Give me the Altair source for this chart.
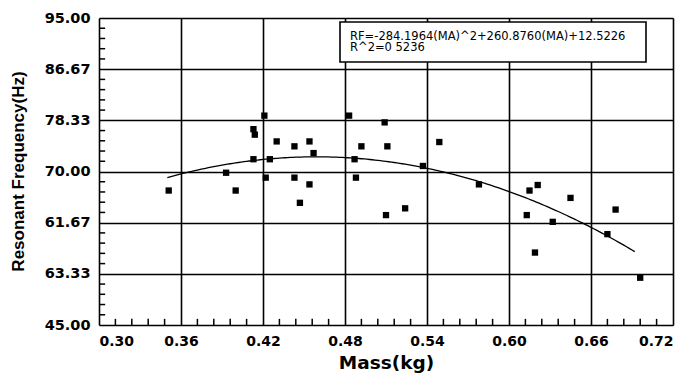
import altair as alt
import pandas as pd
import numpy as np

# Measured samples: mass (kg) and resonant frequency (Hz)
mass = [0.351, 0.393, 0.400, 0.413, 0.414, 0.413, 0.421, 0.422, 0.425, 0.430,
        0.443, 0.443, 0.447, 0.454, 0.454, 0.457, 0.483, 0.488, 0.487, 0.492,
        0.509, 0.511, 0.510, 0.524, 0.549, 0.537, 0.578, 0.615, 0.621, 0.613,
        0.619, 0.632, 0.645, 0.672, 0.678, 0.696]
freq = [66.9, 69.8, 66.9, 76.9, 76.0, 72.0, 79.1, 69.0, 72.0, 74.9,
        74.1, 69.0, 64.9, 67.9, 74.9, 73.0, 79.1, 69.0, 72.0, 74.1,
        78.0, 74.1, 62.9, 64.0, 74.8, 70.9, 67.9, 66.9, 67.8, 62.9,
        56.8, 61.8, 65.7, 59.8, 63.8, 52.7]

# Quadratic fit coefficients shown in the annotation box
coef_a, coef_b, coef_c = -284.1964, 260.8760, 12.5226
fit_start, fit_end = 0.35, 0.694

x_ticks = [0.30, 0.36, 0.42, 0.48, 0.54, 0.60, 0.66, 0.72]
y_ticks = [45.0, 45 + 50 / 6, 45 + 100 / 6, 70.0, 45 + 200 / 6, 45 + 250 / 6, 95.0]
y_labels = ["45.00", "63.33", "61.67", "70.00", "78.33", "86.67", "95.00"]
fit_text = ["RF=-284.1964(MA)^2+260.8760(MA)+12.5226", "R^2=0 5236"]

W, H = 574, 307

pts = pd.DataFrame({"mass": mass, "freq": freq})

xs = alt.Scale(domain=[0.30, 0.72], nice=False, zero=False)
ys = alt.Scale(domain=[45, 95], nice=False, zero=False)

label_expr = "[" + ",".join(f"'{s}'" for s in y_labels) + "][round((datum.value-45)/(50/6))]"

x_axis = alt.Axis(values=x_ticks, format=".2f", grid=True, gridColor="black",
                  gridWidth=1.6, ticks=False, domain=False, labelFont="DejaVu Sans",
                  labelFontWeight="bold", labelFontSize=14, labelColor="black",
                  labelPadding=9, title="Mass(kg)", titleFont="DejaVu Sans",
                  titleFontWeight="bold", titleFontSize=18.5, titleColor="black",
                  titleX=287, titleY=37, titleBaseline="middle", titleAlign="center")
y_axis = alt.Axis(values=y_ticks, labelExpr=label_expr, grid=True, gridColor="black",
                  gridWidth=1.6, ticks=False, domain=False, labelFont="DejaVu Sans",
                  labelFontWeight="bold", labelFontSize=14.5, labelColor="black",
                  labelPadding=9, title="Resonant Frequency(Hz)",
                  titleFont="Liberation Sans", titleFontWeight="bold", titleFontSize=17,
                  titleColor="black", titleAngle=-90, titleX=-81, titleY=153,
                  titleBaseline="middle", titleAlign="center")

# Minor tick positions between the labelled ticks
x_minor = [float(v) for v in np.round(np.arange(0.30, 0.7201, 0.012), 4)
           if not any(abs(v - t) < 1e-6 for t in x_ticks)]
y_minor = [float(v) for v in np.arange(45, 95.001, 50 / 30)
           if not any(abs(v - t) < 1e-6 for t in y_ticks)]

X = lambda f: alt.X(f, scale=xs, axis=x_axis)
Y = lambda f: alt.Y(f, scale=ys, axis=y_axis)

points = alt.Chart(pts).mark_square(size=40, color="black", opacity=1).encode(
    x=X("mass:Q"), y=Y("freq:Q"),
)

curve = alt.Chart(alt.sequence(fit_start, fit_end, 0.002, as_="mass")).transform_calculate(
    freq=f"{coef_a}*datum.mass*datum.mass + {coef_b}*datum.mass + {coef_c}"
).mark_line(color="black", strokeWidth=1.3).encode(
    x=X("mass:Q"), y=Y("freq:Q"),
)

# Short inward tick marks along the bottom and left edges of the frame
xminor = alt.Chart(pd.DataFrame({"xm": x_minor})).transform_calculate(
    y0="45", y1="46"
).mark_rule(color="black", strokeWidth=1.5).encode(
    x=X("xm:Q"), y=Y("y0:Q"), y2="y1:Q"
)
yminor = alt.Chart(pd.DataFrame({"ym": y_minor})).transform_calculate(
    x0="0.30", x1="0.3045"
).mark_rule(color="black", strokeWidth=1.5).encode(
    y=Y("ym:Q"), x=X("x0:Q"), x2="x1:Q"
)

box = alt.Chart(pd.DataFrame({"k": [0]})).mark_rect(
    fill="white", stroke="black", strokeWidth=1.6
).encode(x=alt.value(241), x2=alt.value(547), y=alt.value(4), y2=alt.value(44))

line1 = alt.Chart(pd.DataFrame({"t": [fit_text[0]]})).mark_text(
    align="left", baseline="middle", font="DejaVu Sans", fontSize=11.5, color="black"
).encode(text="t:N", x=alt.value(251), y=alt.value(19))
line2 = alt.Chart(pd.DataFrame({"t": [fit_text[1]]})).mark_text(
    align="left", baseline="middle", font="DejaVu Sans", fontSize=11.5, color="black"
).encode(text="t:N", x=alt.value(251), y=alt.value(30))

chart = alt.layer(points, curve, box, line1, line2, xminor, yminor).properties(
    width=W, height=H,
    autosize=alt.AutoSizeParams(type="none"),
    padding={"left": 99, "top": 18, "right": 16, "bottom": 54},
).configure_view(stroke="black", strokeWidth=2).configure(background="white")

chart.save("out.html", embed_options={"renderer": "svg", "actions": False})
